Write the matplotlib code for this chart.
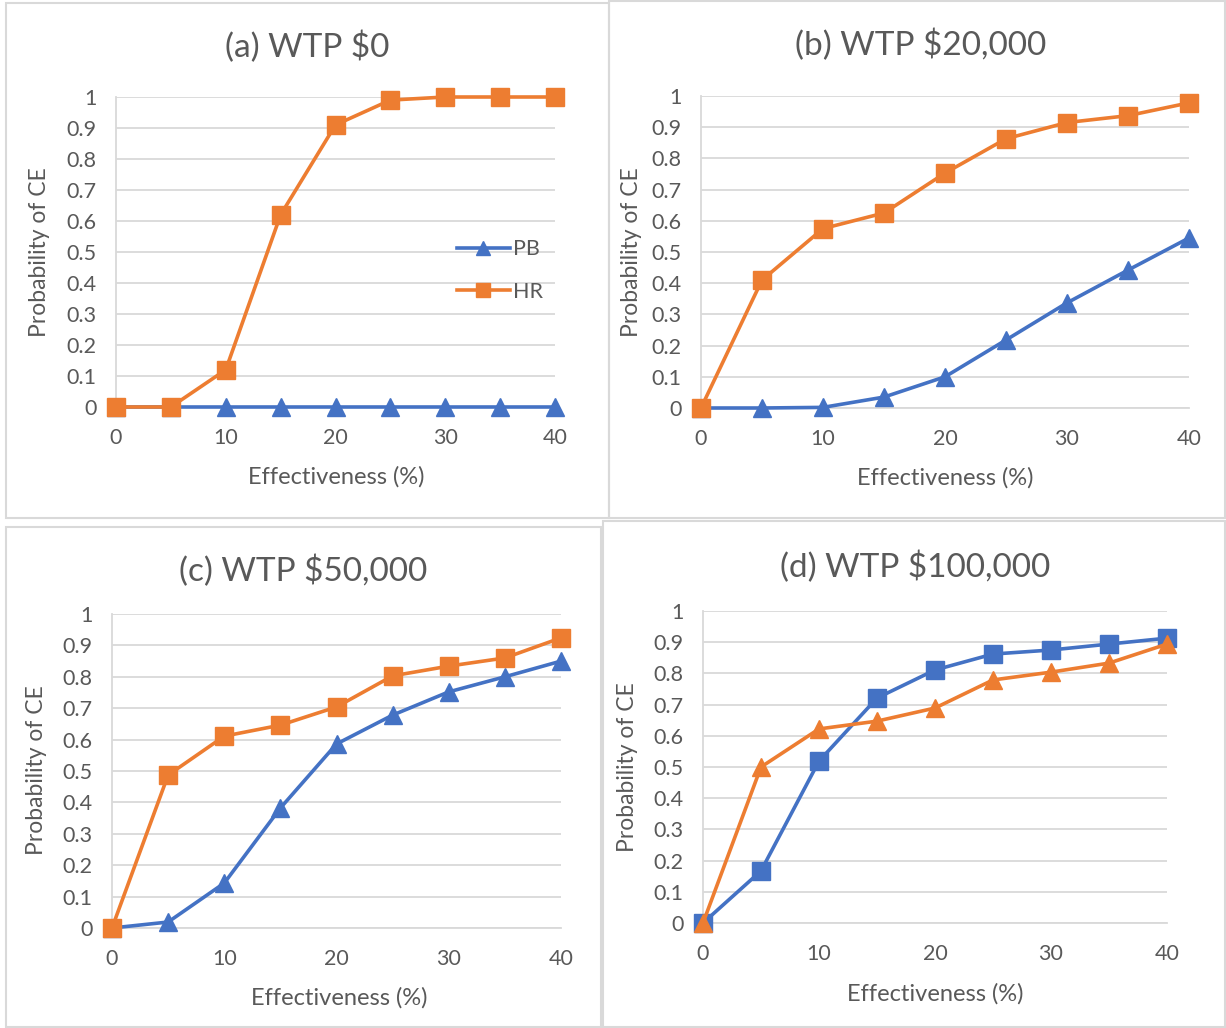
import numpy as np
import matplotlib
matplotlib.use("Agg")
from matplotlib import pyplot as plt
from matplotlib.patches import Rectangle

plt.rcParams['font.family'] = ['Lato', 'DejaVu Sans']

effectiveness = [0, 5, 10, 15, 20, 25, 30, 35, 40]

# probability cost-effective, by willingness-to-pay threshold
pb_wtp0 = [0, 0, 0, 0, 0, 0, 0, 0, 0]
hr_wtp0 = [0, 0, 0.12, 0.62, 0.91, 0.99, 1.0, 1.0, 1.0]

pb_wtp20k = [0, 0, 0.002, 0.035, 0.10, 0.218, 0.337, 0.442, 0.545]
hr_wtp20k = [0, 0.41, 0.575, 0.625, 0.753, 0.863, 0.915, 0.937, 0.978]

pb_wtp50k = [0, 0.019, 0.143, 0.382, 0.586, 0.678, 0.752, 0.80, 0.85]
hr_wtp50k = [0, 0.487, 0.611, 0.646, 0.704, 0.803, 0.834, 0.86, 0.924]

pb_wtp100k = [0, 0.167, 0.519, 0.721, 0.811, 0.862, 0.875, 0.894, 0.913]
hr_wtp100k = [0, 0.50, 0.622, 0.647, 0.689, 0.779, 0.804, 0.833, 0.894]

titles = ['(a) WTP $0', '(b) WTP $20,000', '(c) WTP $50,000', '(d) WTP $100,000']

BLUE = '#4472C4'
ORANGE = '#ED7D31'
GRID = '#D9D9D9'
TEXT = '#595959'

W, H = 1226, 1028
fig = plt.figure(figsize=(W / 100, H / 100), dpi=100)
fig.patch.set_facecolor('white')


def px_rect(left, top, right, bottom):
    return [left / W, 1 - bottom / H, (right - left) / W, (bottom - top) / H]


def chart_box(left, top, right, bottom):
    fig.patches.append(Rectangle((left / W, 1 - bottom / H), (right - left) / W,
                                 (bottom - top) / H, transform=fig.transFigure,
                                 fill=False, edgecolor=GRID, linewidth=1.5))


def panel(rect, title, title_xy, ylab_xy, xlab_xy, series):
    ax = fig.add_axes(px_rect(*rect))
    for ys, color, marker in series:
        ax.plot(effectiveness, ys, color=color, linewidth=2.6, marker=marker,
                markersize=13.5, clip_on=False, zorder=3)
    ax.set_xlim(0, 40)
    ax.set_ylim(0, 1)
    ax.set_xticks([0, 10, 20, 30, 40])
    ax.set_yticks(np.arange(0, 1.01, 0.1))
    ax.set_yticklabels(['0', '0.1', '0.2', '0.3', '0.4', '0.5', '0.6', '0.7',
                        '0.8', '0.9', '1'])
    ax.tick_params(length=0, labelsize=15.5, labelcolor=TEXT)
    ax.tick_params(axis='y', pad=14)
    ax.tick_params(axis='x', pad=15)
    ax.grid(axis='y', color=GRID, linewidth=1.3)
    ax.set_axisbelow(True)
    for side in ['top', 'right']:
        ax.spines[side].set_visible(False)
    ax.spines['left'].set_color(GRID)
    ax.spines['bottom'].set_color(GRID)
    ax.spines['left'].set_linewidth(1.3)
    ax.spines['bottom'].set_linewidth(1.3)

    fig.text(title_xy[0] / W, 1 - title_xy[1] / H, title, ha='center',
             va='center', fontsize=24, color=TEXT)
    fig.text(ylab_xy[0] / W, 1 - ylab_xy[1] / H, 'Probability of CE',
             ha='center', va='center', rotation=90, fontsize=16.5, color=TEXT)
    fig.text(xlab_xy[0] / W, 1 - xlab_xy[1] / H, 'Effectiveness (%)',
             ha='center', va='center', fontsize=17, color=TEXT)
    return ax


# chart frames
chart_box(6, 3, 609, 518)
chart_box(609, 1, 1225, 518)
chart_box(6, 527, 601, 1027)
chart_box(603, 521, 1225, 1027)

ax_a = panel((116, 97, 555, 407), titles[0], (307, 47), (40, 252), (336, 477),
             [(pb_wtp0, BLUE, '^'), (hr_wtp0, ORANGE, 's')])
ax_a.lines[0].set_label('PB')
ax_a.lines[1].set_label('HR')
ax_a.legend(loc='center left', bbox_to_anchor=(0.752, 0.44), frameon=False,
            fontsize=15.5, labelcolor=TEXT, handlelength=2.45, handletextpad=0.15,
            labelspacing=1.05, markerscale=0.75, borderpad=0)

panel((701, 96, 1189, 408), titles[1], (921, 45), (631, 252), (945, 478),
      [(pb_wtp20k, BLUE, '^'), (hr_wtp20k, ORANGE, 's')])

panel((112, 614, 561, 928), titles[2], (303, 571), (37, 770), (339, 998),
      [(pb_wtp50k, BLUE, '^'), (hr_wtp50k, ORANGE, 's')])

panel((703, 611, 1167, 923), titles[3], (915, 567), (627, 767), (935, 994),
      [(pb_wtp100k, BLUE, 's'), (hr_wtp100k, ORANGE, '^')])

fig.savefig('out.png', dpi=100)
